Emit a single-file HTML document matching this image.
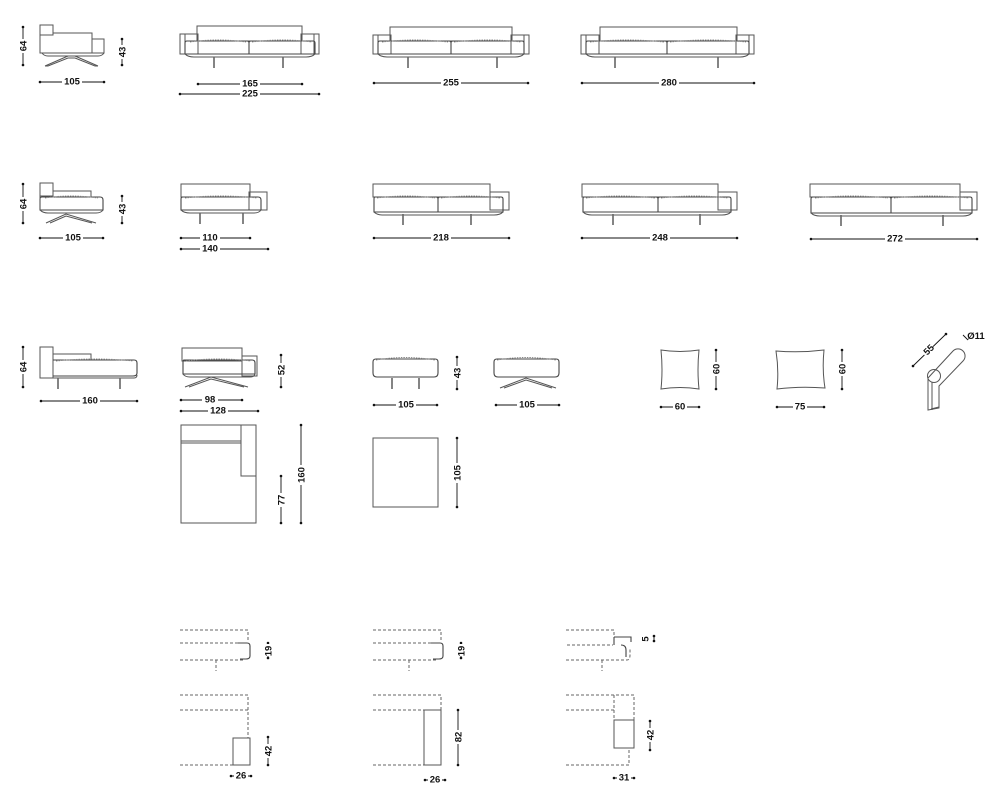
<!DOCTYPE html>
<html><head><meta charset="utf-8">
<style>
html,body{margin:0;padding:0;background:#fff;}
svg{display:block}
.s{fill:none;stroke:#555;stroke-width:1}
.k{fill:none;stroke:#444;stroke-width:1.1}
.st{fill:none;stroke:#888;stroke-width:1;stroke-dasharray:1.5 1}
.ds{fill:none;stroke:#666;stroke-width:1;stroke-dasharray:3 2}
.dl{stroke:#111;stroke-width:0.9}
.dt{fill:#111}
text{font-family:"Liberation Sans",sans-serif;font-size:9.5px;font-weight:bold;fill:#111;text-anchor:middle}
.tb{fill:#fff;stroke:none}
</style></head>
<body>
<svg width="1000" height="809" viewBox="0 0 1000 809" xmlns="http://www.w3.org/2000/svg">
<defs>
<g id="leg"><line x1="0" y1="0" x2="0" y2="11" stroke="#666" stroke-width="1.6"/></g>
</defs>

<!-- ===== ROW 1 ===== -->
<!-- side armchair -->
<rect class="s" x="40" y="25" width="13" height="10"/>
<path class="s" d="M40 25 V53 H104 V39 H92 V33 H53"/>
<line class="s" x1="92" y1="39" x2="92" y2="53"/>
<path class="s" d="M42 53 Q44 56 48 56 H98 Q102 56 104 53"/>
<path class="s" d="M45 66 L68 56 M98 66 L75 56 M45 66 H48 L68 58 H75 L95 66 H98"/>
<line class="dl" x1="23" y1="27" x2="23" y2="65"/><circle class="dt" cx="23" cy="27" r="1.3"/><circle class="dt" cx="23" cy="65" r="1.3"/>
<rect class="tb" x="17" y="39" width="12" height="14"/><text transform="translate(26.5 46) rotate(-90)">64</text>
<line class="dl" x1="122" y1="39" x2="122" y2="65"/><circle class="dt" cx="122" cy="39" r="1.3"/><circle class="dt" cx="122" cy="65" r="1.3"/>
<rect class="tb" x="116" y="45" width="12" height="14"/><text transform="translate(125.5 52) rotate(-90)">43</text>
<line class="dl" x1="40" y1="82" x2="104" y2="82"/><circle class="dt" cx="40" cy="82" r="1.3"/><circle class="dt" cx="104" cy="82" r="1.3"/>
<rect class="tb" x="62" y="76" width="20" height="10"/><text x="72" y="84.5">105</text>

<!-- sofa 225 -->
<rect class="s" x="197" y="26" width="105" height="15"/>
<rect class="s" x="180" y="34" width="18" height="20"/><line class="s" x1="185" y1="34" x2="185" y2="54"/>
<rect class="s" x="301" y="34" width="18" height="20"/><line class="s" x1="314" y1="34" x2="314" y2="54"/>
<path class="k" d="M187 41 H247 Q249 41 249 43 V54 H185 V43 Q185 41 187 41 Z M251 41 H313 Q315 41 315 43 V54 H249 V43 Q249 41 251 41Z"/>
<path class="st" d="M190 42 Q218 38 246 42 M252 42 Q282 38 312 42"/>
<path class="s" d="M185 54 Q188 57 194 57 H306 Q312 57 315 54"/>
<use href="#leg" x="214" y="57"/><use href="#leg" x="283" y="57"/>
<line class="dl" x1="198" y1="84" x2="302" y2="84"/><circle class="dt" cx="198" cy="84" r="1.3"/><circle class="dt" cx="302" cy="84" r="1.3"/>
<rect class="tb" x="240" y="78" width="20" height="10"/><text x="250" y="86.5">165</text>
<line class="dl" x1="180" y1="94" x2="319" y2="94"/><circle class="dt" cx="180" cy="94" r="1.3"/><circle class="dt" cx="319" cy="94" r="1.3"/>
<rect class="tb" x="240" y="88" width="20" height="10"/><text x="250" y="96.5">225</text>

<!-- sofa 255 -->
<rect class="s" x="390" y="27" width="122" height="14"/>
<rect class="s" x="373" y="35" width="18" height="19"/><line class="s" x1="378" y1="35" x2="378" y2="54"/>
<rect class="s" x="511" y="35" width="18" height="19"/><line class="s" x1="524" y1="35" x2="524" y2="54"/>
<path class="k" d="M380 41 H449 Q451 41 451 43 V54 H378 V43 Q378 41 380 41Z M453 41 H522 Q524 41 524 43 V54 H451 V43 Q451 41 453 41Z"/>
<path class="st" d="M382 42 Q415 38 448 42 M454 42 Q488 38 521 42"/>
<path class="s" d="M378 54 Q381 57 387 57 H515 Q521 57 524 54"/>
<use href="#leg" x="408" y="57"/><use href="#leg" x="497" y="57"/>
<line class="dl" x1="374" y1="83" x2="528" y2="83"/><circle class="dt" cx="374" cy="83" r="1.3"/><circle class="dt" cx="528" cy="83" r="1.3"/>
<rect class="tb" x="441" y="77" width="20" height="10"/><text x="451" y="85.5">255</text>

<!-- sofa 280 -->
<rect class="s" x="600" y="27" width="137" height="14"/>
<rect class="s" x="581" y="35" width="18" height="19"/><line class="s" x1="586" y1="35" x2="586" y2="54"/>
<rect class="s" x="736" y="35" width="18" height="19"/><line class="s" x1="749" y1="35" x2="749" y2="54"/>
<path class="k" d="M588 41 H665 Q667 41 667 43 V54 H586 V43 Q586 41 588 41Z M669 41 H747 Q749 41 749 43 V54 H667 V43 Q667 41 669 41Z"/>
<path class="st" d="M590 42 Q627 38 664 42 M670 42 Q708 38 746 42"/>
<path class="s" d="M586 54 Q589 57 595 57 H740 Q746 57 749 54"/>
<use href="#leg" x="615" y="57"/><use href="#leg" x="718" y="57"/>
<line class="dl" x1="582" y1="83" x2="754" y2="83"/><circle class="dt" cx="582" cy="83" r="1.3"/><circle class="dt" cx="754" cy="83" r="1.3"/>
<rect class="tb" x="659" y="77" width="20" height="10"/><text x="669" y="85.5">280</text>

<!-- ===== ROW 2 ===== -->
<rect class="s" x="40" y="183" width="13" height="13"/>
<path class="s" d="M53 191 H91 V197"/>
<path class="k" d="M42 197 H100 Q103 197 103 200 V210 H40 V199 Q40 197 42 197Z"/>
<path class="st" d="M45 198 Q70 194 98 198"/>
<path class="s" d="M40 183 V210 M40 210 Q43 213 48 213 H96 Q101 213 103 210"/>
<path class="s" d="M46 223 L66 214 L96 223 M50 223 L66 216 L92 223"/>
<line class="dl" x1="23" y1="184" x2="23" y2="223"/><circle class="dt" cx="23" cy="184" r="1.3"/><circle class="dt" cx="23" cy="223" r="1.3"/>
<rect class="tb" x="17" y="197" width="12" height="14"/><text transform="translate(26.5 204) rotate(-90)">64</text>
<line class="dl" x1="122" y1="196" x2="122" y2="223"/><circle class="dt" cx="122" cy="196" r="1.3"/><circle class="dt" cx="122" cy="223" r="1.3"/>
<rect class="tb" x="116" y="202" width="12" height="14"/><text transform="translate(125.5 209) rotate(-90)">43</text>
<line class="dl" x1="40" y1="238" x2="103" y2="238"/><circle class="dt" cx="40" cy="238" r="1.3"/><circle class="dt" cx="103" cy="238" r="1.3"/>
<rect class="tb" x="63" y="232" width="20" height="10"/><text x="73" y="240.5">105</text>

<!-- 110/140 -->
<rect class="s" x="181" y="184" width="69" height="13"/>
<rect class="s" x="249" y="192" width="18" height="18"/>
<path class="k" d="M183 197 H258 Q261 197 261 200 V210 H181 V199 Q181 197 183 197Z"/>
<path class="st" d="M185 198 Q220 194 257 198"/>
<path class="s" d="M181 210 Q184 213 190 213 H254 Q259 213 261 210"/>
<use href="#leg" x="200" y="213"/><use href="#leg" x="243" y="213"/>
<line class="dl" x1="181" y1="238" x2="250" y2="238"/><circle class="dt" cx="181" cy="238" r="1.3"/><circle class="dt" cx="250" cy="238" r="1.3"/>
<rect class="tb" x="200" y="232" width="20" height="10"/><text x="210" y="240.5">110</text>
<line class="dl" x1="181" y1="249" x2="268" y2="249"/><circle class="dt" cx="181" cy="249" r="1.3"/><circle class="dt" cx="268" cy="249" r="1.3"/>
<rect class="tb" x="200" y="243" width="20" height="10"/><text x="210" y="251.5">140</text>

<!-- 218 -->
<rect class="s" x="373" y="184" width="117" height="13"/>
<rect class="s" x="490" y="192" width="19" height="18"/>
<path class="k" d="M375 197 H436 Q438 197 438 199 V212 H374 V199 Q374 197 375 197Z M440 197 H501 Q503 197 503 199 V212 H438 V199 Q438 197 440 197Z"/>
<path class="st" d="M377 198 Q406 194 435 198 M441 198 Q471 194 500 198"/>
<path class="s" d="M374 212 Q377 215 383 215 H494 Q500 215 503 212"/>
<use href="#leg" x="403" y="214"/><use href="#leg" x="471" y="214"/>
<line class="dl" x1="374" y1="238" x2="509" y2="238"/><circle class="dt" cx="374" cy="238" r="1.3"/><circle class="dt" cx="509" cy="238" r="1.3"/>
<rect class="tb" x="431" y="232" width="20" height="10"/><text x="441" y="240.5">218</text>

<!-- 248 -->
<rect class="s" x="582" y="184" width="136" height="13"/>
<rect class="s" x="718" y="192" width="19" height="18"/>
<path class="k" d="M584 197 H656 Q658 197 658 199 V212 H583 V199 Q583 197 584 197Z M660 197 H729 Q731 197 731 199 V212 H658 V199 Q658 197 660 197Z"/>
<path class="st" d="M586 198 Q620 194 655 198 M661 198 Q694 194 728 198"/>
<path class="s" d="M583 212 Q586 215 592 215 H722 Q728 215 731 212"/>
<use href="#leg" x="613" y="214"/><use href="#leg" x="700" y="214"/>
<line class="dl" x1="582" y1="238" x2="737" y2="238"/><circle class="dt" cx="582" cy="238" r="1.3"/><circle class="dt" cx="737" cy="238" r="1.3"/>
<rect class="tb" x="650" y="232" width="20" height="10"/><text x="660" y="240.5">248</text>

<!-- 272 -->
<rect class="s" x="810" y="184" width="150" height="13"/>
<rect class="s" x="960" y="192" width="17" height="18"/>
<path class="k" d="M813 197 H889 Q891 197 891 199 V213 H811 V199 Q811 197 813 197Z M893 197 H970 Q972 197 972 199 V213 H891 V199 Q891 197 893 197Z"/>
<path class="st" d="M815 198 Q851 194 888 198 M894 198 Q931 194 969 198"/>
<path class="s" d="M811 213 Q814 216 820 216 H963 Q969 216 972 213"/>
<use href="#leg" x="841" y="215"/><use href="#leg" x="943" y="215"/>
<line class="dl" x1="811" y1="239" x2="977" y2="239"/><circle class="dt" cx="811" cy="239" r="1.3"/><circle class="dt" cx="977" cy="239" r="1.3"/>
<rect class="tb" x="885" y="233" width="20" height="10"/><text x="895" y="241.5">272</text>

<!-- ===== ROW 3 ===== -->
<!-- chaise 160 -->
<rect class="s" x="40" y="347" width="13" height="31"/>
<rect class="s" x="53" y="354" width="38" height="6"/>
<path class="k" d="M53 360 H134 Q137 360 137 363 V373 Q137 376 133 376 H53"/>
<path class="st" d="M56 361 Q95 357 133 361"/>
<path class="s" d="M40 378 H134 Q137 378 137 375"/>
<use href="#leg" x="58" y="378"/><use href="#leg" x="120" y="378"/>
<line class="dl" x1="23" y1="347" x2="23" y2="387"/><circle class="dt" cx="23" cy="347" r="1.3"/><circle class="dt" cx="23" cy="387" r="1.3"/>
<rect class="tb" x="17" y="360" width="12" height="14"/><text transform="translate(26.5 367) rotate(-90)">64</text>
<line class="dl" x1="41" y1="401" x2="137" y2="401"/><circle class="dt" cx="41" cy="401" r="1.3"/><circle class="dt" cx="137" cy="401" r="1.3"/>
<rect class="tb" x="80" y="395" width="20" height="10"/><text x="90" y="403.5">160</text>

<!-- 98/128 side -->
<rect class="s" x="182" y="348" width="60" height="13"/>
<rect class="s" x="242" y="356" width="15" height="20"/>
<path class="k" d="M184 360 H252 Q255 360 255 363 V374 H183 V362 Q183 360 184 360Z"/>
<path class="st" d="M186 361 Q218 357 251 361"/>
<path class="s" d="M183 374 Q185 377 190 377 H250 Q254 377 255 374"/>
<path class="s" d="M185 387 L211 377 L248 387 M189 387 L211 379 L244 387"/>
<line class="dl" x1="281" y1="355" x2="281" y2="387"/><circle class="dt" cx="281" cy="355" r="1.3"/><circle class="dt" cx="281" cy="387" r="1.3"/>
<rect class="tb" x="275" y="363" width="12" height="14"/><text transform="translate(284.5 370) rotate(-90)">52</text>
<line class="dl" x1="181" y1="400" x2="242" y2="400"/><circle class="dt" cx="181" cy="400" r="1.3"/><circle class="dt" cx="242" cy="400" r="1.3"/>
<rect class="tb" x="202" y="394" width="16" height="10"/><text x="210" y="402.5">98</text>
<line class="dl" x1="181" y1="411" x2="258" y2="411"/><circle class="dt" cx="181" cy="411" r="1.3"/><circle class="dt" cx="258" cy="411" r="1.3"/>
<rect class="tb" x="208" y="405" width="20" height="10"/><text x="218" y="413.5">128</text>

<!-- plan chaise -->
<rect class="s" x="181" y="425" width="75" height="98"/>
<line class="s" x1="181" y1="441" x2="241" y2="441"/>
<line class="s" x1="181" y1="443" x2="241" y2="443" stroke="#bbb"/>
<rect class="s" x="241" y="425" width="15" height="51" fill="#fff"/>
<line class="dl" x1="301" y1="425" x2="301" y2="523"/><circle class="dt" cx="301" cy="425" r="1.3"/><circle class="dt" cx="301" cy="523" r="1.3"/>
<rect class="tb" x="295" y="465" width="12" height="20"/><text transform="translate(304.5 475) rotate(-90)">160</text>
<line class="dl" x1="281" y1="476" x2="281" y2="523"/><circle class="dt" cx="281" cy="476" r="1.3"/><circle class="dt" cx="281" cy="523" r="1.3"/>
<rect class="tb" x="275" y="493" width="12" height="14"/><text transform="translate(284.5 500) rotate(-90)">77</text>

<!-- ottoman legs -->
<path class="k" d="M376 359 H435 Q438 359 438 362 V373 Q438 377 434 377 H377 Q373 377 373 373 V362 Q373 359 376 359Z"/>
<path class="st" d="M376 360 Q405 355 435 360"/>
<use href="#leg" x="392" y="378"/><use href="#leg" x="419" y="378"/>
<line class="dl" x1="457" y1="357" x2="457" y2="389"/><circle class="dt" cx="457" cy="357" r="1.3"/><circle class="dt" cx="457" cy="389" r="1.3"/>
<rect class="tb" x="451" y="366" width="12" height="14"/><text transform="translate(460.5 373) rotate(-90)">43</text>
<line class="dl" x1="374" y1="405" x2="437" y2="405"/><circle class="dt" cx="374" cy="405" r="1.3"/><circle class="dt" cx="437" cy="405" r="1.3"/>
<rect class="tb" x="396" y="399" width="20" height="10"/><text x="406" y="407.5">105</text>

<!-- ottoman base -->
<path class="k" d="M497 359 H556 Q559 359 559 362 V373 Q559 377 555 377 H498 Q494 377 494 373 V362 Q494 359 497 359Z"/>
<path class="st" d="M497 360 Q526 355 556 360"/>
<path class="s" d="M500 388 L526 378 L556 388 M504 388 L526 380 L552 388"/>
<line class="dl" x1="496" y1="405" x2="559" y2="405"/><circle class="dt" cx="496" cy="405" r="1.3"/><circle class="dt" cx="559" cy="405" r="1.3"/>
<rect class="tb" x="517" y="399" width="20" height="10"/><text x="527" y="407.5">105</text>

<!-- ottoman plan -->
<rect class="s" x="373" y="438" width="65" height="69"/>
<line class="dl" x1="457" y1="438" x2="457" y2="507"/><circle class="dt" cx="457" cy="438" r="1.3"/><circle class="dt" cx="457" cy="507" r="1.3"/>
<rect class="tb" x="451" y="463" width="12" height="20"/><text transform="translate(460.5 473) rotate(-90)">105</text>

<!-- pillow 60 -->
<path class="s" d="M661 350 Q680 353 699 350 Q697 370 699 389 Q680 386 661 389 Q663 370 661 350Z"/>
<line class="dl" x1="716" y1="350" x2="716" y2="389"/><circle class="dt" cx="716" cy="350" r="1.3"/><circle class="dt" cx="716" cy="389" r="1.3"/>
<rect class="tb" x="710" y="362" width="12" height="14"/><text transform="translate(719.5 369) rotate(-90)">60</text>
<line class="dl" x1="661" y1="407" x2="699" y2="407"/><circle class="dt" cx="661" cy="407" r="1.3"/><circle class="dt" cx="699" cy="407" r="1.3"/>
<rect class="tb" x="673" y="401" width="14" height="10"/><text x="680" y="409.5">60</text>

<!-- pillow 75 -->
<path class="s" d="M776 351 Q800 353 824 350 Q822 370 825 388 Q800 386 777 389 Q779 370 776 351Z"/>
<line class="dl" x1="842" y1="350" x2="842" y2="389"/><circle class="dt" cx="842" cy="350" r="1.3"/><circle class="dt" cx="842" cy="389" r="1.3"/>
<rect class="tb" x="836" y="362" width="12" height="14"/><text transform="translate(845.5 369) rotate(-90)">60</text>
<line class="dl" x1="777" y1="407" x2="824" y2="407"/><circle class="dt" cx="777" cy="407" r="1.3"/><circle class="dt" cx="824" cy="407" r="1.3"/>
<rect class="tb" x="793" y="401" width="14" height="10"/><text x="800" y="409.5">75</text>

<!-- bolster -->
<path class="s" d="M928 378 L953 351 A7 7 0 0 1 963 361 L939 386 V408 L928 410 Z"/>
<path class="s" d="M931 409 L939 407 M932 410 V382"/>
<circle class="s" cx="934" cy="376" r="6.5" fill="#fff"/>
<line class="dl" x1="913" y1="366" x2="946" y2="334"/><circle class="dt" cx="913" cy="366" r="1.3"/><circle class="dt" cx="946" cy="334" r="1.3"/>
<rect class="tb" x="922" y="343" width="12" height="14" transform="rotate(-45 928 350)"/>
<text transform="translate(931 352) rotate(-45)">55</text>
<line class="dl" x1="963" y1="335" x2="968" y2="340"/>
<text x="976" y="339">Ø11</text>

<!-- ===== ROW 4 ===== -->
<!-- group 1 top -->
<path class="ds" d="M180 630 H248 V642 M180 643 H242 M180 660 H244 M216 660 V671"/>
<path class="k" d="M238 643 H247 Q250 643 250 646 V656 Q250 659 246 659 H240"/>
<line class="dl" x1="268" y1="643" x2="268" y2="658"/><circle class="dt" cx="268" cy="643" r="1.3"/><circle class="dt" cx="268" cy="658" r="1.3"/>
<rect class="tb" x="262" y="644" width="12" height="12"/><text transform="translate(271.5 651) rotate(-90)">19</text>
<!-- group 1 bottom -->
<path class="ds" d="M180 695 H248 V738 M180 710 H248 M180 765 H233"/>
<rect class="s" x="233" y="738" width="17" height="27"/>
<line class="dl" x1="268" y1="737" x2="268" y2="765"/><circle class="dt" cx="268" cy="737" r="1.3"/><circle class="dt" cx="268" cy="765" r="1.3"/>
<rect class="tb" x="262" y="744" width="12" height="14"/><text transform="translate(271.5 751) rotate(-90)">42</text>
<line class="dl" x1="231" y1="776" x2="251" y2="776"/><circle class="dt" cx="231" cy="776" r="1.3"/><circle class="dt" cx="251" cy="776" r="1.3"/>
<rect class="tb" x="234" y="770" width="14" height="10"/><text x="241" y="778.5">26</text>

<!-- group 2 top -->
<path class="ds" d="M373 630 H441 V642 M373 643 H435 M373 660 H437 M409 660 V671"/>
<path class="k" d="M431 643 H440 Q443 643 443 646 V656 Q443 659 439 659 H433"/>
<line class="dl" x1="461" y1="643" x2="461" y2="658"/><circle class="dt" cx="461" cy="643" r="1.3"/><circle class="dt" cx="461" cy="658" r="1.3"/>
<rect class="tb" x="455" y="644" width="12" height="12"/><text transform="translate(464.5 651) rotate(-90)">19</text>
<!-- group 2 bottom -->
<path class="ds" d="M373 695 H441 V710 M373 710 H424 M373 765 H424"/>
<rect class="s" x="424" y="710" width="17" height="55"/>
<line class="dl" x1="458" y1="710" x2="458" y2="765"/><circle class="dt" cx="458" cy="710" r="1.3"/><circle class="dt" cx="458" cy="765" r="1.3"/>
<rect class="tb" x="452" y="730" width="12" height="14"/><text transform="translate(461.5 737) rotate(-90)">82</text>
<line class="dl" x1="425" y1="780" x2="445" y2="780"/><circle class="dt" cx="425" cy="780" r="1.3"/><circle class="dt" cx="445" cy="780" r="1.3"/>
<rect class="tb" x="428" y="774" width="14" height="10"/><text x="435" y="782.5">26</text>

<!-- group 3 top -->
<path class="ds" d="M566 630 H614 V637 M567 645 H613 M566 660 H627 Q630 660 630 655 V648 M602 660 V671"/>
<path class="k" d="M614 637 H631 V642 M614 637 V645 M621 645 Q626 645 626 650 V657"/>
<line class="dl" x1="654" y1="636" x2="654" y2="641"/><circle class="dt" cx="654" cy="636" r="1.3"/><circle class="dt" cx="654" cy="641" r="1.3"/>
<text transform="translate(648.5 639) rotate(-90)">5</text>
<!-- group 3 bottom -->
<path class="ds" d="M566 695 H634 V720 M614 695 V720 M566 710 H614 M566 765 H629 V748"/>
<rect class="s" x="614" y="720" width="20" height="28"/>
<line class="dl" x1="650" y1="721" x2="650" y2="750"/><circle class="dt" cx="650" cy="721" r="1.3"/><circle class="dt" cx="650" cy="750" r="1.3"/>
<rect class="tb" x="644" y="728" width="12" height="14"/><text transform="translate(653.5 735) rotate(-90)">42</text>
<line class="dl" x1="614" y1="778" x2="634" y2="778"/><circle class="dt" cx="614" cy="778" r="1.3"/><circle class="dt" cx="634" cy="778" r="1.3"/>
<rect class="tb" x="617" y="772" width="14" height="10"/><text x="624" y="780.5">31</text>
</svg>
</body></html>
